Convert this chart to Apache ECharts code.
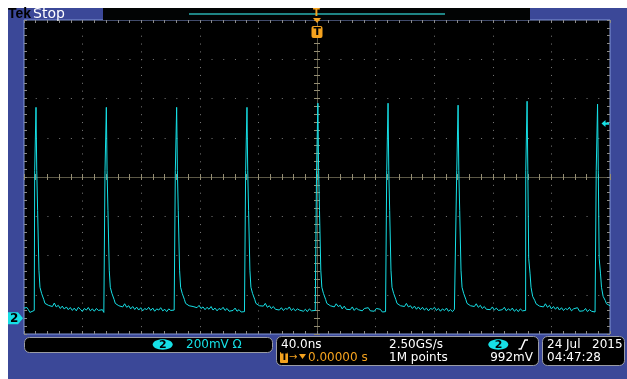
<!DOCTYPE html>
<html><head><meta charset="utf-8">
<script src="https://cdn.jsdelivr.net/npm/echarts@6/dist/echarts.min.js"></script>
<style>html,body{margin:0;padding:0;background:#fff;}#c{width:627px;height:379px;}</style>
</head><body><div id="c"></div>
<script>
// ---- data: channel 2 trace, [time ns, voltage mV] ----
const trace = [
  [-200,52],[-199,48],[-198,55],[-197,44],[-196,30],[-195,22],[-194.5,35],[-193.4,28],[-193,40],
  [-192.7,754],[-191.8,1075],[-191.3,754],[-190.7,550],[-189.8,245],[-189.1,158],[-188,127],[-186.5,96],[-185.7,76],[-184.5,82],[-183.3,66],
  [-182,72],[-180.6,60],[-179.3,78],[-178,58],[-176.6,66],[-175.2,50],[-173.9,62],[-172.5,47],[-171.1,58],[-169.8,44],[-168.4,55],[-167,40],[-165.7,52],[-164.3,38],[-162.9,56],[-161.5,46],[-160.2,35],[-158.8,50],[-157.4,42],[-156.1,55],[-154.7,38],[-153.3,48],[-152,36],[-150.6,50],[-149.2,40],[-147.9,32],[-146.5,44],[-145.5,30],
  [-144.7,754],[-143.8,1075],[-143.3,754],[-142.7,550],[-141.8,245],[-141.1,158],[-140,127],[-138.5,96],[-137.7,76],[-136.5,84],[-135.3,64],
  [-134,70],[-132.6,58],[-131.3,74],[-129.9,56],[-128.5,64],[-127.2,48],[-125.8,60],[-124.4,45],[-123.1,57],[-121.7,42],[-120.3,54],[-119,38],[-117.6,50],[-116.2,44],[-114.9,56],[-113.5,40],[-112.1,52],[-110.8,36],[-109.4,48],[-108,42],[-106.7,54],[-105.3,38],[-103.9,46],[-102.6,34],[-101.2,48],[-99.8,40],[-98.5,30],[-97.5,42],
  [-96.7,754],[-95.8,1075],[-95.3,754],[-94.7,550],[-93.8,245],[-93.1,158],[-92,127],[-90.5,96],[-89.7,76],[-88.5,84],[-87.3,64],
  [-86,74],[-84.6,60],[-83.3,70],[-81.9,54],[-80.5,66],[-79.2,50],[-77.8,58],[-76.4,44],[-75.1,56],[-73.7,46],[-72.3,60],[-71,42],[-69.6,52],[-68.2,38],[-66.9,50],[-65.5,44],[-64.1,56],[-62.8,40],[-61.4,50],[-60,36],[-58.7,46],[-57.3,40],[-55.9,52],[-54.6,36],[-53.2,44],[-51.8,32],[-50.5,42],[-49.5,34],
  [-48.7,754],[-47.8,1075],[-47.3,754],[-46.7,550],[-45.8,245],[-45.1,158],[-44,127],[-42.5,96],[-41.7,76],[-40.5,84],[-39.3,64],
  [-38,72],[-36.6,62],[-35.3,76],[-33.9,56],[-32.5,64],[-31.2,50],[-29.8,60],[-28.4,46],[-27.1,56],[-25.7,42],[-24.3,54],[-23,40],[-21.6,50],[-20.2,46],[-18.9,58],[-17.5,40],[-16.1,50],[-14.8,38],[-13.4,48],[-12,42],[-10.7,52],[-9.3,36],[-7.9,46],[-6.6,34],[-5.2,48],[-3.8,38],[-2.5,30],[-1.2,40],
  [-0.3,754],[0.6,1096],[1.1,754],[1.7,550],[2.6,245],[3.3,158],[4.4,127],[5.9,96],[6.7,76],[7.9,84],[9.1,64],
  [10.4,70],[11.8,58],[13.1,74],[14.5,60],[15.9,66],[17.2,48],[18.6,62],[20,46],[21.3,56],[22.7,44],[24.1,58],[25.4,40],[26.8,52],[28.2,44],[29.5,54],[30.9,38],[32.3,50],[33.6,42],[35,54],[36.4,38],[37.7,46],[39.1,36],[40.5,50],[41.8,40],[43.2,46],[44.6,32],[45.9,42],[46.8,34],
  [47.6,754],[48.5,1096],[49,754],[49.6,550],[50.5,245],[51.2,158],[52.3,127],[53.8,96],[54.6,76],[55.8,84],[57,64],
  [58.3,72],[59.7,60],[61,76],[62.4,58],[63.8,64],[65.1,50],[66.5,62],[67.9,46],[69.2,58],[70.6,44],[72,56],[73.3,42],[74.7,52],[76.1,38],[77.4,50],[78.8,46],[80.2,56],[81.5,40],[82.9,50],[84.3,36],[85.6,48],[87,40],[88.4,52],[89.7,36],[91.1,44],[92.5,34],[93.8,46],[94.8,36],
  [95.4,754],[96.3,1086],[96.8,754],[97.4,550],[98.3,245],[99,158],[100.1,127],[101.6,96],[102.4,76],[103.6,84],[104.8,64],
  [106,70],[107.4,60],[108.7,74],[110.1,56],[111.5,66],[112.8,50],[114.2,60],[115.6,46],[116.9,56],[118.3,44],[119.7,58],[121,42],[122.4,52],[123.8,40],[125.1,50],[126.5,44],[127.9,56],[129.2,38],[130.6,48],[132,40],[133.3,52],[134.7,36],[136.1,46],[137.4,34],[138.8,48],[140.2,38],[141.5,30],[142.4,40],
  [142.5,754],[143.4,1106],[143.9,754],[144.5,306],[145.4,230],[146.1,158],[147.2,112],[148.7,90],[149.5,74],[150.7,82],[151.9,62],
  [153.2,72],[154.6,58],[155.9,74],[157.3,56],[158.7,66],[160,48],[161.4,60],[162.8,46],[164.1,58],[165.5,42],[166.9,54],[168.2,40],[169.6,50],[171,44],[172.3,56],[173.7,38],[175.1,48],[176.4,42],[177.8,54],[179.2,36],[180.5,46],[181.9,38],[183.3,50],[184.6,34],[186,44],[187.4,36],[188.7,46],[189.8,32],
  [190.6,754],[191.5,1091],[192,754],[192.6,306],[193.5,230],[194.2,158],[195.3,112],[196.8,90],[197.6,74],[198.8,80],[200,64]
];
const timeRangeNs = [-200, 200];
const timePerDivNs = 40;
const voltRangeMv = [-80, 1520];
const triggerLevelMv = 992;
const groundLevelMv = 0;

// ---- readout texts ----
const chLabel = '2';
const voltScaleText = '200mV \u03A9';
const timeScaleText = '40.0ns';
const sampleRateText = '2.50GS/s';
const trigLevelText = '992mV';
const recordText = '1M points';
const trigPosText = '0.00000 s';
const dateText = '24 Jul   2015';
const timeText = '04:47:28';

// ---- styling ----
const BLUE = '#3b4898', CYAN = '#16e0e6', ORANGE = '#f4a21e';
const DOT = '#7b7b7b', TICK = '#8a8a8a', CENTER = '#5c5846', CTICK = '#958e74';
const FONT = 'DejaVu Sans';
const G = {left: 24, top: 20, width: 586, height: 314};

const chart = echarts.init(document.getElementById('c'), null, {renderer: 'canvas'});

function xA(extra) {
  return Object.assign({type: 'value', gridIndex: 0, min: timeRangeNs[0], max: timeRangeNs[1],
    axisLabel: {show: false}, splitLine: {show: false},
    axisLine: {show: false, onZero: false}, axisTick: {show: false}}, extra);
}
function yA(extra) {
  return Object.assign({type: 'value', gridIndex: 0, min: -4, max: 4,
    axisLabel: {show: false}, splitLine: {show: false},
    axisLine: {show: false, onZero: false}, axisTick: {show: false}}, extra);
}
const tickIn = {show: true, inside: true, length: 3, lineStyle: {color: TICK, width: 1}};
const ctickIn = {show: true, inside: true, length: 3, lineStyle: {color: CTICK, width: 1}};
const ctickOut = {show: true, inside: false, length: 3, lineStyle: {color: CTICK, width: 1}};

const option = {
  backgroundColor: BLUE,
  animation: false,
  grid: {left: G.left, top: G.top, width: G.width, height: G.height, show: true,
    backgroundColor: '#000', borderColor: '#8296d6', borderWidth: 1, containLabel: false},
  xAxis: [
    xA({position: 'bottom', interval: timePerDivNs,
      splitLine: {show: true, showMinLine: false, showMaxLine: false,
        lineStyle: {color: DOT, width: 1, type: [1, 6.85]}}}),
    xA({position: 'top', interval: timePerDivNs / 5, axisTick: tickIn}),
    xA({position: 'bottom', interval: timePerDivNs / 5, axisTick: tickIn}),
    xA({position: 'bottom', offset: -G.height / 2, interval: timePerDivNs / 5,
      axisLine: {show: true, onZero: false, lineStyle: {color: CENTER, width: 1}}, axisTick: ctickIn}),
    xA({position: 'bottom', offset: -G.height / 2, interval: timePerDivNs / 5, axisTick: ctickOut})
  ],
  yAxis: [
    yA({position: 'left', interval: 1,
      splitLine: {show: true, showMinLine: false, showMaxLine: false,
        lineStyle: {color: DOT, width: 1, type: [1, 10.72]}}}),
    yA({position: 'left', interval: 0.2, axisTick: tickIn}),
    yA({position: 'right', interval: 0.2, axisTick: tickIn}),
    yA({position: 'left', offset: -G.width / 2, interval: 0.2,
      axisLine: {show: true, onZero: false, lineStyle: {color: CENTER, width: 1}}, axisTick: ctickIn}),
    yA({position: 'left', offset: -G.width / 2, interval: 0.2, axisTick: ctickOut}),
    {type: 'value', gridIndex: 0, show: false, position: 'left', min: voltRangeMv[0], max: voltRangeMv[1],
      axisLine: {onZero: false}, splitLine: {show: false}}
  ],
  series: [{
    type: 'line', xAxisIndex: 0, yAxisIndex: 5, data: trace, showSymbol: false,
    symbol: 'none', lineStyle: {color: CYAN, width: 1}, z: 5, silent: true
  }]
};
chart.setOption(option);

const gY = chart.convertToPixel({xAxisIndex: 0, yAxisIndex: 5}, [0, groundLevelMv])[1];
const tY = chart.convertToPixel({xAxisIndex: 0, yAxisIndex: 5}, [0, triggerLevelMv])[1];
const tX = chart.convertToPixel({xAxisIndex: 0, yAxisIndex: 5}, [0, 0])[0];

function txt(x, y, s, fill, font) {
  return {type: 'text', x: x, y: y, z: 50,
    style: {text: s, fill: fill, font: font || ('12px "' + FONT + '"'), verticalAlign: 'middle', textVerticalAlign: 'middle'}};
}
function txtR(x, y, s, fill, font) {
  const t = txt(x, y, s, fill, font);
  t.style.align = 'right'; t.style.textAlign = 'right';
  return t;
}
function rect(x, y, w, h, fill, r, stroke) {
  return {type: 'rect', z: 40, shape: {x: x, y: y, width: w, height: h, r: r || 0},
    style: stroke ? {fill: fill, stroke: stroke, lineWidth: 1} : {fill: fill}};
}
const PANEL = '#9a9ca4';

const graphics = [
  rect(0, 0, 627, 8, '#fff'),
  rect(0, 0, 8, 379, '#fff'),
  // header
  txt(8, 14.5, 'Tek', '#000', 'bold 14px "Liberation Sans"'),
  txt(33, 14, 'Stop', '#fff', '14px "' + FONT + '"'),
  rect(103, 8, 427, 12, '#020404'),
  {type: 'line', z: 45, shape: {x1: 189, y1: 14, x2: 445, y2: 14}, style: {stroke: '#1f8585', lineWidth: 2}},
  // trigger position marker (top)
  txt(tX - 4, 13, 'T', ORANGE, 'bold 10px "' + FONT + '"'),
  {type: 'polygon', z: 50, shape: {points: [[tX - 4, 18], [tX + 4, 18], [tX, 23]]}, style: {fill: ORANGE}},
  {type: 'rect', z: 50, shape: {x: tX - 5.5, y: 26, width: 11, height: 12, r: 2}, style: {fill: ORANGE}},
  txt(tX - 3.5, 32.5, 'T', '#000', 'bold 11px "' + FONT + '"'),
  // ground marker ch2
  {type: 'polygon', z: 50, shape: {points: [[8, gY - 6], [18, gY - 6], [23, gY], [18, gY + 6], [8, gY + 6]]}, style: {fill: CYAN}},
  txt(10, gY + 0.5, chLabel, '#000', 'bold 12px "' + FONT + '"'),
  // trigger level marker
  {type: 'polygon', z: 50, shape: {points: [[601.5, tY], [605.5, tY - 3.5], [605.5, tY - 1.2], [609, tY - 1.2], [609, tY + 1.2], [605.5, tY + 1.2], [605.5, tY + 3.5]]}, style: {fill: CYAN}},
  // bottom panels
  rect(24.5, 337.5, 248, 15, '#000', 5, PANEL),
  rect(276.5, 336.5, 262, 29, '#000', 5, PANEL),
  rect(542.5, 336.5, 82, 29, '#000', 5, PANEL),
  // panel 1
  {type: 'ellipse', z: 50, shape: {cx: 162.7, cy: 344.5, rx: 10, ry: 5.2}, style: {fill: CYAN}},
  txt(159, 345, chLabel, '#000', 'bold 11px "' + FONT + '"'),
  txt(186, 345, voltScaleText, CYAN),
  // panel 2 row 1
  txt(281, 344.5, timeScaleText, '#fff'),
  txt(389, 344.5, sampleRateText, '#fff'),
  {type: 'ellipse', z: 50, shape: {cx: 498.3, cy: 344.5, rx: 10, ry: 5.2}, style: {fill: CYAN}},
  txt(494.7, 345, chLabel, '#000', 'bold 11px "' + FONT + '"'),
  {type: 'polyline', z: 50, shape: {points: [[518.5, 349], [521, 349], [525, 340], [528, 340]]}, style: {stroke: '#fff', lineWidth: 1.5, fill: null}},
  // panel 2 row 2
  rect(280, 352, 8, 11, ORANGE, 1),
  txt(281, 357.5, 'T', '#000', 'bold 10px "' + FONT + '"'),
  txt(289, 357.5, '\u2192', ORANGE, '10px "' + FONT + '"'),
  {type: 'polygon', z: 50, shape: {points: [[299, 354], [306, 354], [302.5, 359]]}, style: {fill: ORANGE}},
  txt(308, 358, trigPosText, ORANGE),
  txt(389, 358, recordText, '#fff'),
  txtR(533, 358, trigLevelText, '#fff'),
  // panel 3
  txt(547, 344.5, dateText, '#fff'),
  txt(547, 358, timeText, '#fff')
];
chart.setOption({graphic: graphics});
</script></body></html>
